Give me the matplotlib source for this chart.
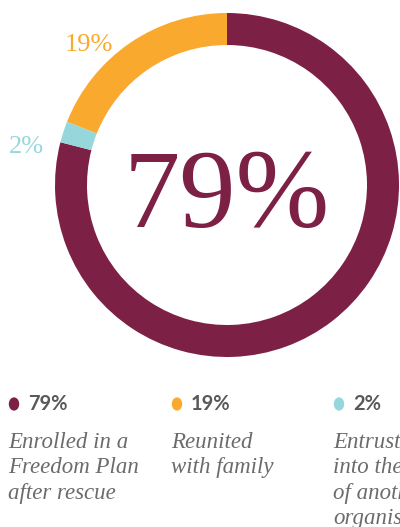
import numpy as np
import matplotlib.pyplot as plt

# data
shares = [79, 2, 19]
labels = ['79%', '2%', '19%']
colors = ['#7d2045', '#96d7dc', '#f9aa2e']
legend_order = [0, 2, 1]
descriptions = ['Enrolled in a\nFreedom Plan\nafter rescue',
                'Reunited\nwith family',
                'Entrusted\ninto the care\nof another\norganisation']

W, H = 400, 527
fig = plt.figure(figsize=(W / 100, H / 100), dpi=100)

# donut: centre (227,185) px, outer radius 172 px
cx, cy, r = 227, 185, 172
ax = fig.add_axes([(cx - r) / W, 1 - (cy + r) / H, 2 * r / W, 2 * r / H])
wedges, _ = ax.pie(shares, colors=colors, startangle=90, counterclock=False,
                   radius=1, wedgeprops=dict(width=32 / r, linewidth=0))
ax.set_xlim(-1, 1)
ax.set_ylim(-1, 1)
ax.set_aspect('equal')
ax.axis('off')

# outer labels for the small slices
for w, lab, c in zip(wedges[1:], labels[1:], colors[1:]):
    mid = np.deg2rad((w.theta1 + w.theta2) / 2 + 3)
    ax.text(1.1 * np.cos(mid), 1.1 * np.sin(mid), lab, color=c,
            family='Liberation Serif', fontsize=19, ha='right', va='top',
            clip_on=False)

# big centre number
ax.text(0, -0.09, labels[0], color=colors[0], family='Liberation Serif',
        fontsize=81, ha='center', va='center')

# legend columns
col_x = [8, 171, 333]
for k, i in enumerate(legend_order):
    x0 = col_x[k]
    fig.patches.append(plt.Circle(((x0 + 6) / W, 1 - 404 / H), 4.5 / W,
                                  transform=fig.transFigure, color=colors[i],
                                  figure=fig))
    fig.text((x0 + 20) / W, 1 - 404 / H, labels[i], family='Lato',
             weight='bold', fontsize=14.5, color='#595959', va='center')
    fig.text(x0 / W, 1 - 432 / H, descriptions[k], family='Liberation Serif',
             style='italic', fontsize=16.5, color='#6b6b6b', va='top',
             linespacing=1.27)

fig.savefig('out.png', dpi=100)
